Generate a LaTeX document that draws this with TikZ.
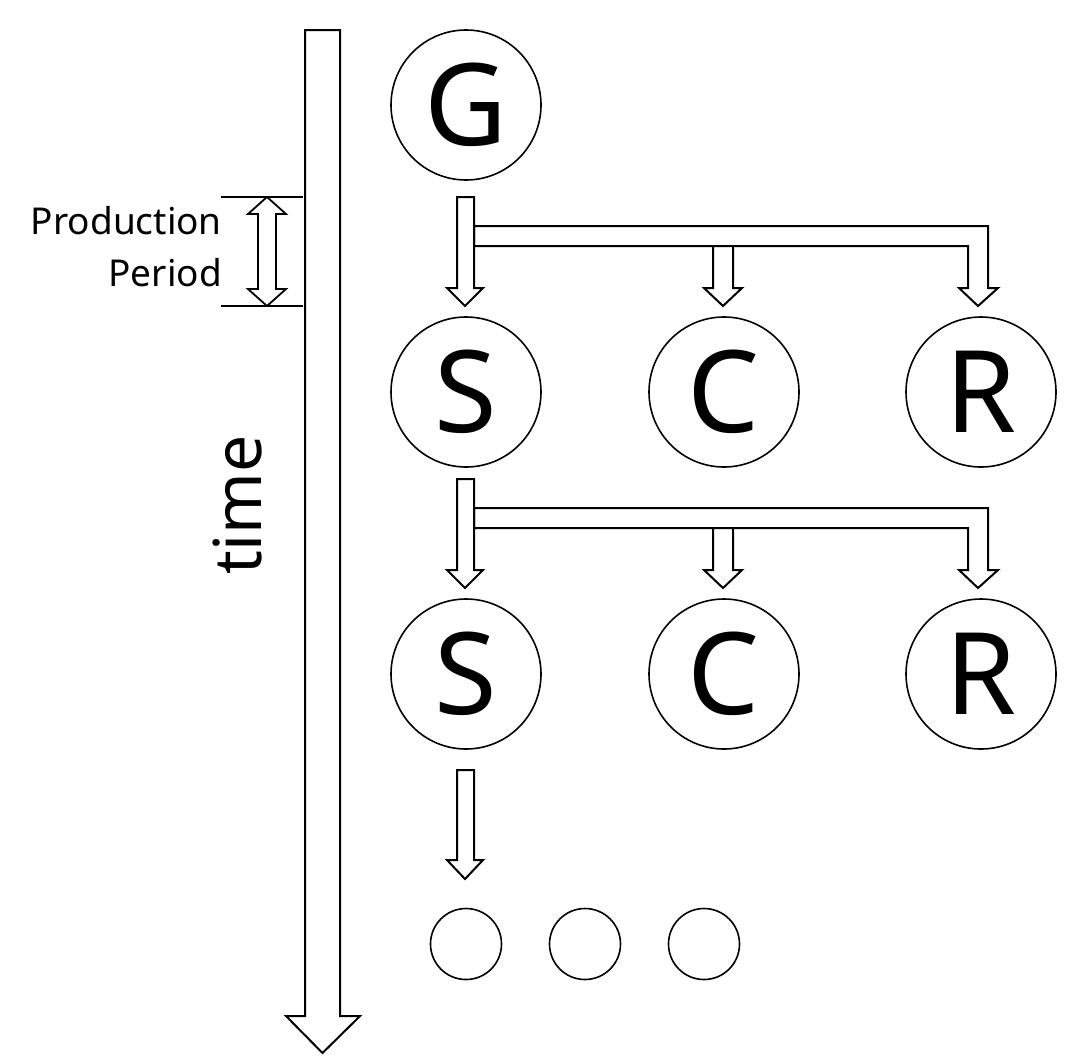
\documentclass[tikz,border=0pt]{standalone}
\usepackage{fontspec}
\setmainfont{Noto Sans}
\begin{document}
\begin{tikzpicture}[x=1pt,y=-1pt,
  blockarrow/.style={draw=black, line width=2pt, fill=white, line join=miter},
  statecircle/.style={circle, draw=black, line width=1.6pt, minimum size=150pt, inner sep=0pt,
    font=\fontsize{114}{114}\selectfont},
  dotcircle/.style={circle, draw=black, line width=1.6pt, minimum size=71pt, inner sep=0pt},
  periodline/.style={draw=black, line width=2.6pt},
  lbl/.style={inner sep=0pt, font=\fontsize{37}{37}\selectfont}
]
\useasboundingbox (0,0) rectangle (1086,1055);

% time axis
\draw[blockarrow] (305,30) -- (340,30) -- (340,1016) -- (360,1016) -- (322.5,1053) -- (286,1016) -- (305,1016) -- cycle;
\node[inner sep=0pt, rotate=90, font=\fontsize{66}{66}\selectfont, anchor=base] (time) at (261,505) {time};

% production period
\coordinate (p1) at (221,197);
\coordinate (p2) at (221,306);
\draw[periodline] (p1) -- (303,197);
\draw[periodline] (p2) -- (303,306);
\draw[blockarrow, line width=1.8pt] (267,197) -- (286,214) -- (276,214) -- (276,289) -- (286,289) -- (267,306) -- (248,289) -- (258,289) -- (258,214) -- (248,214) -- cycle;
\node[lbl, anchor=base east] (prod) at (222,234) {Production};
\node[lbl, anchor=base east] (per) at (222,286) {Period};

% state circles
\node[statecircle] (G) at (466,105) {G};
\node[statecircle] (S1) at (466,392) {S};
\node[statecircle] (C1) at (724,392) {C};
\node[statecircle] (R1) at (981,392) {R};
\node[statecircle] (S2) at (466,674) {S};
\node[statecircle] (C2) at (724,674) {C};
\node[statecircle] (R2) at (981,674) {R};
\node[dotcircle] (d1) at (466,944) {};
\node[dotcircle] (d2) at (585,944) {};
\node[dotcircle] (d3) at (704,944) {};

% fork arrows
\foreach \dy in {0,282}{
  \begin{scope}[yshift=-\dy pt]
  \draw[blockarrow] (474,226) -- (988,226) -- (988,288) -- (998,288) -- (978,306) -- (959,288) -- (968,288) -- (968,246) -- (474,246) -- cycle;
  \draw[blockarrow] (713,246) -- (733,246) -- (733,288) -- (742,288) -- (723,306) -- (704,288) -- (713,288) -- cycle;
  \draw[blockarrow] (457,197) -- (474,197) -- (474,288) -- (483,288) -- (465,306) -- (447,288) -- (457,288) -- cycle;
  \end{scope}
}
% last arrow
\draw[blockarrow] (457,770) -- (474,770) -- (474,860) -- (483,860) -- (465,879) -- (447,860) -- (457,860) -- cycle;
\end{tikzpicture}
\end{document}
